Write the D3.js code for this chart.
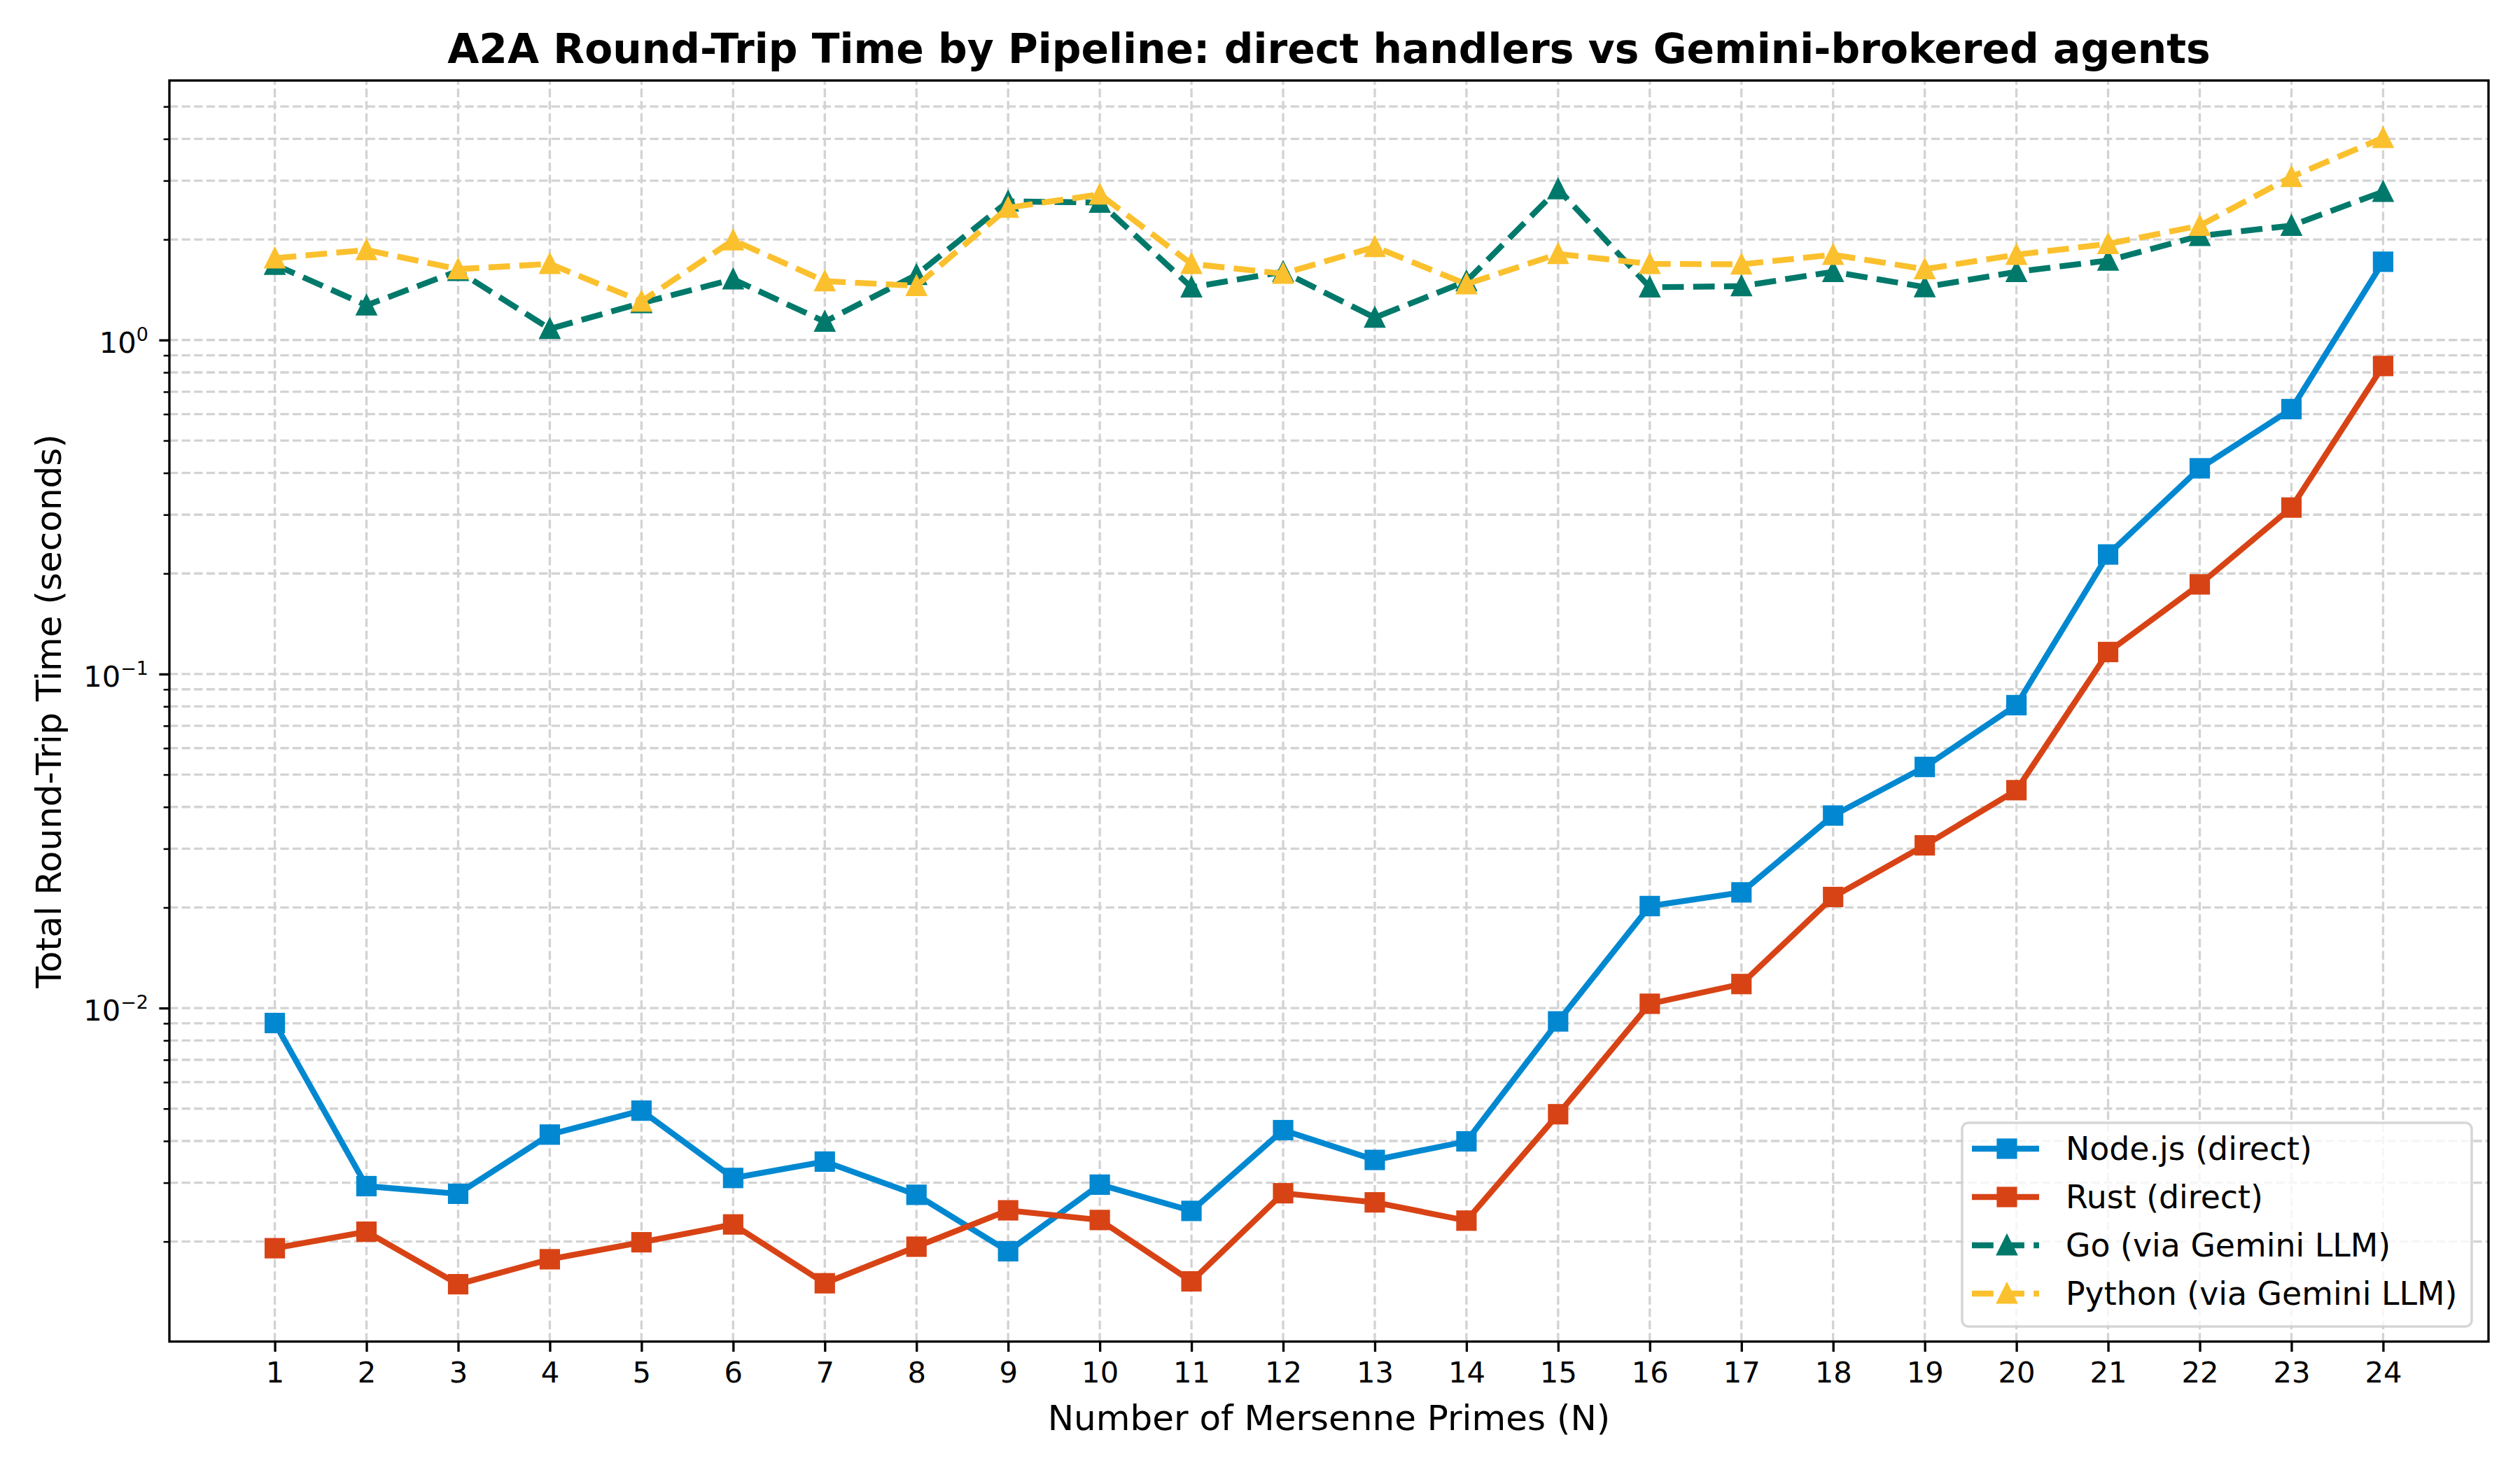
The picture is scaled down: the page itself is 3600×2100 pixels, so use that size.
<!DOCTYPE html>
<html>
<head>
<meta charset="utf-8">
<script src="https://cdn.jsdelivr.net/npm/d3@7"></script>
<style>
body { margin: 0; background: #fff; }
text { font-family: "DejaVu Sans", sans-serif; }
</style>
</head>
<body>
<div id="chart"></div>
<script>
// number of Mersenne primes (x categories)
const primes = [1,2,3,4,5,6,7,8,9,10,11,12,13,14,15,16,17,18,19,20,21,22,23,24];

// round-trip time in seconds
const nodeTimes = [0.00902,0.00293,0.00278,0.00418,0.00493,0.00310,0.00347,0.00276,0.00187,0.00296,0.00247,0.00431,
                   0.00351,0.00399,0.00912,0.0202,0.0222,0.0377,0.0527,0.0807,0.228,0.413,0.621,1.715];
const rustTimes = [0.00191,0.00214,0.00149,0.00177,0.00199,0.00225,0.00150,0.00193,0.00248,0.00232,0.00152,0.00279,
                   0.00262,0.00231,0.00481,0.0103,0.0118,0.0215,0.0307,0.0449,0.1164,0.1855,0.315,0.836];
const goTimes = [1.68,1.27,1.61,1.08,1.29,1.52,1.135,1.567,2.60,2.58,1.438,1.60,
                 1.167,1.50,2.83,1.438,1.45,1.60,1.44,1.60,1.73,2.05,2.20,2.78];
const pythonTimes = [1.758,1.86,1.63,1.69,1.305,1.99,1.50,1.453,2.49,2.73,1.69,1.58,
                     1.90,1.47,1.81,1.69,1.685,1.80,1.63,1.80,1.94,2.20,3.08,4.03];

const seriesNames = ['Node.js (direct)','Rust (direct)','Go (via Gemini LLM)','Python (via Gemini LLM)'];
const yMajorTicks = [0.01, 0.1, 1];
const yMajorLabels = ['\u22122', '\u22121', '0'];

const width = 3600, height = 2100;
const plotLeft = 242, plotRight = 3555, plotTop = 115, plotBottom = 1916.5;

const series = [
  {name: seriesNames[0], values: nodeTimes, color: '#0288D1', dash: null, marker: 'square'},
  {name: seriesNames[1], values: rustTimes, color: '#D84315', dash: null, marker: 'square'},
  {name: seriesNames[2], values: goTimes, color: '#00796B', dash: '30.8,13.3', marker: 'triangle'},
  {name: seriesNames[3], values: pythonTimes, color: '#FBC02D', dash: '30.8,13.3', marker: 'triangle'}
];

const svg = d3.select('#chart')
              .append('svg')
              .attr('width', width)
              .attr('height', height);

svg.append('rect').attr('width', width).attr('height', height).attr('fill', '#fff');

// matplotlib style 5% margins
const xPad = (d3.max(primes) - d3.min(primes)) * 0.05;
const scaleX = d3.scaleLinear().domain([d3.min(primes) - xPad, d3.max(primes) + xPad]).range([plotLeft, plotRight]);

const allTimes = [].concat(nodeTimes, rustTimes, goTimes, pythonTimes);
const lo = Math.log10(d3.min(allTimes)), hi = Math.log10(d3.max(allTimes));
const yPad = (hi - lo) * 0.05;
const scaleY = d3.scaleLog().domain([Math.pow(10, lo - yPad), Math.pow(10, hi + yPad)]).range([plotBottom, plotTop]);

// minor ticks for the log axis
let yMinorTicks = [];
const [d0, d1] = scaleY.domain();
for (let e = Math.floor(Math.log10(d0)); e <= Math.ceil(Math.log10(d1)); e++) {
  for (let m = 2; m <= 9; m++) {
    const v = m * Math.pow(10, e);
    if (v >= d0 && v <= d1 && scaleY(v) > plotTop + 1) yMinorTicks.push(v);
  }
}

// grid
const grid = svg.append('g').attr('class', 'grid');
grid.selectAll('.vgrid')
    .data(primes)
    .enter()
    .append('line')
    .attr('x1', d => scaleX(d)).attr('x2', d => scaleX(d))
    .attr('y1', plotBottom).attr('y2', plotTop)
    .attr('stroke', '#d3d3d3')
    .attr('stroke-width', 3.33)
    .attr('stroke-dasharray', '12.3,5.3');

grid.selectAll('.hgrid')
    .data(yMajorTicks.concat(yMinorTicks))
    .enter()
    .append('line')
    .attr('x1', plotLeft).attr('x2', plotRight)
    .attr('y1', d => scaleY(d)).attr('y2', d => scaleY(d))
    .attr('stroke', '#d3d3d3')
    .attr('stroke-width', 3.33)
    .attr('stroke-dasharray', '12.3,5.3');

// lines and markers
const line = d3.line()
               .x((d, i) => scaleX(primes[i]))
               .y(d => scaleY(d));

const trianglePath = 'M0,-12.5L12.5,12.5L-12.5,12.5Z';

function drawMarker(g, marker, color, cx, cy) {
  if (marker === 'square') {
    g.append('rect')
     .attr('x', cx - 12.5).attr('y', cy - 12.5)
     .attr('width', 25).attr('height', 25)
     .attr('fill', color)
     .attr('stroke', color)
     .attr('stroke-width', 4.17);
  } else {
    g.append('path')
     .attr('d', trianglePath)
     .attr('transform', 'translate(' + cx + ',' + cy + ')')
     .attr('fill', color)
     .attr('stroke', color)
     .attr('stroke-width', 4.17)
     .attr('stroke-linejoin', 'miter');
  }
}

series.forEach(s => {
  const g = svg.append('g');
  g.append('path')
   .datum(s.values)
   .attr('d', line)
   .attr('fill', 'none')
   .attr('stroke', s.color)
   .attr('stroke-width', 8.33)
   .attr('stroke-linejoin', 'round')
   .attr('stroke-dasharray', s.dash);
  s.values.forEach((v, i) => drawMarker(g, s.marker, s.color, scaleX(primes[i]), scaleY(v)));
});

// spines
svg.append('rect')
   .attr('x', plotLeft).attr('y', plotTop)
   .attr('width', plotRight - plotLeft).attr('height', plotBottom - plotTop)
   .attr('fill', 'none')
   .attr('stroke', '#000')
   .attr('stroke-width', 3.33);

// x axis
let xAxis = d3.axisBottom(scaleX).tickValues(primes).tickSize(14.6).tickPadding(14.6).tickFormat(d3.format('d'));
const xAxisGroup = svg.append('g')
                      .attr('transform', 'translate(0,' + plotBottom + ')')
                      .call(xAxis);
xAxisGroup.select('.domain').remove();
xAxisGroup.selectAll('line').attr('stroke', '#000').attr('stroke-width', 3.33);
xAxisGroup.selectAll('text')
          .attr('font-size', '41.7px')
          .attr('font-family', 'DejaVu Sans')
          .attr('fill', '#000');

// y axis: minor and major ticks
let yMinorAxis = d3.axisLeft(scaleY).tickValues(yMinorTicks).tickSize(8.3).tickFormat('');
const yMinorGroup = svg.append('g').attr('transform', 'translate(' + plotLeft + ',0)').call(yMinorAxis);
yMinorGroup.select('.domain').remove();
yMinorGroup.selectAll('line').attr('stroke', '#000').attr('stroke-width', 2.5);

let yAxis = d3.axisLeft(scaleY).tickValues(yMajorTicks).tickSize(14.6).tickFormat('');
const yAxisGroup = svg.append('g').attr('transform', 'translate(' + plotLeft + ',0)').call(yAxis);
yAxisGroup.select('.domain').remove();
yAxisGroup.selectAll('line').attr('stroke', '#000').attr('stroke-width', 3.33);

const yLabels = svg.append('g');
yMajorTicks.forEach((v, i) => {
  const t = yLabels.append('text')
                   .attr('x', plotLeft - 30)
                   .attr('y', scaleY(v) + 18)
                   .attr('text-anchor', 'end')
                   .attr('font-size', '41.7px')
                   .attr('fill', '#000');
  t.append('tspan').text('10');
  t.append('tspan').attr('dy', -17).attr('font-size', '27px').text(yMajorLabels[i]);
});

// title and axis labels
svg.append('text')
   .attr('x', (plotLeft + plotRight) / 2)
   .attr('y', 90)
   .attr('text-anchor', 'middle')
   .attr('font-size', '58.3px')
   .attr('font-weight', 'bold')
   .text('A2A Round-Trip Time by Pipeline: direct handlers vs Gemini-brokered agents');

svg.append('text')
   .attr('x', (plotLeft + plotRight) / 2)
   .attr('y', 2043)
   .attr('text-anchor', 'middle')
   .attr('font-size', '50px')
   .text('Number of Mersenne Primes (N)');

svg.append('text')
   .attr('transform', 'translate(87,' + (plotTop + plotBottom) / 2 + ') rotate(-90)')
   .attr('text-anchor', 'middle')
   .attr('font-size', '50px')
   .text('Total Round-Trip Time (seconds)');

// legend
const legend = svg.append('g');
legend.append('rect')
      .attr('x', 2803).attr('y', 1604)
      .attr('width', 728).attr('height', 291)
      .attr('rx', 9).attr('ry', 9)
      .attr('fill', '#fff').attr('fill-opacity', 0.8)
      .attr('stroke', '#cccccc').attr('stroke-opacity', 0.8)
      .attr('stroke-width', 3.5);

series.forEach((s, i) => {
  const ry = 1641 + i * 69;
  const g = legend.append('g');
  g.append('line')
   .attr('x1', 2817).attr('x2', 2913)
   .attr('y1', ry).attr('y2', ry)
   .attr('stroke', s.color)
   .attr('stroke-width', 8.33)
   .attr('stroke-dasharray', s.dash);
  drawMarker(g, s.marker, s.color, 2867, ry);
  g.append('text')
   .attr('x', 2951)
   .attr('y', ry + 16)
   .attr('font-size', '45.8px')
   .attr('fill', '#000')
   .text(s.name);
});
</script>
</body>
</html>
